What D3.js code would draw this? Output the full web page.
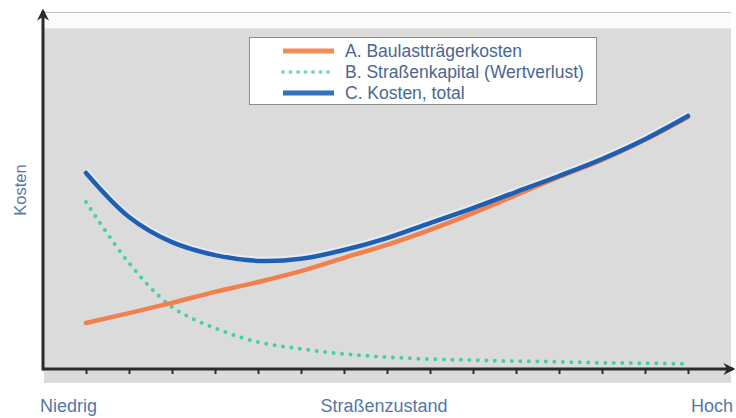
<!DOCTYPE html>
<html>
<head>
<meta charset="utf-8">
<script src="https://cdn.jsdelivr.net/npm/d3@7"></script>
<style>
  html, body { margin: 0; padding: 0; background: #ffffff; }
  svg { display: block; font-family: "Liberation Sans", Arial, sans-serif; }
</style>
</head>
<body>
<svg id="chart" width="736" height="418"></svg>
<script>
// Positions along the road-condition axis (tick index 1..15)
const steps = [1, 2, 3, 4, 5, 6, 7, 8, 9, 10, 11, 12, 13, 14, 15];

// A. Baulastträgerkosten (relative cost units)
const baulastValues = [13.5, 16.4, 19.4, 22.6, 25.5, 28.7, 32.6, 36.4, 40.8, 45.7, 51.0, 56.3, 61.3, 67.2, 73.9];
// B. Straßenkapital (Wertverlust)
const kapitalValues = [49.0, 31.1, 18.2, 12.0, 7.9, 5.9, 4.4, 3.5, 2.9, 2.6, 2.3, 2.1, 1.8, 1.7, 1.5];
// C. Kosten, total
const totalValues = [57.5, 44.6, 37.2, 33.4, 31.7, 32.3, 34.9, 38.4, 42.8, 47.2, 51.9, 56.6, 61.6, 67.4, 74.2];

const seriesNames = ["A. Baulastträgerkosten", "B. Straßenkapital (Wertverlust)", "C. Kosten, total"];
const axisLabels = { left: "Niedrig", middle: "Straßenzustand", right: "Hoch", y: "Kosten" };
const tickSteps = d3.range(1, 16);

const svg = d3.select("#chart");

const x = d3.scaleLinear().domain([0, 16]).range([43, 731]);
const y = d3.scaleLinear().domain([0, 100]).range([369, 28]);

const axisColor = "#2b2b2b";
const textColor = "#5676a8";

// plot background with white top band
svg.append("rect").attr("x", 44).attr("y", 12).attr("width", 687).attr("height", 371)
  .attr("fill", "#dbdbdb");
svg.append("rect").attr("x", 44).attr("y", 12).attr("width", 687).attr("height", 16)
  .attr("fill", "#fbfbfb");
svg.append("line").attr("x1", 44).attr("x2", 731).attr("y1", 12.5).attr("y2", 12.5)
  .attr("stroke", "#bdbdbd").attr("stroke-width", 1);
svg.append("line").attr("x1", 44).attr("x2", 731).attr("y1", 28.5).attr("y2", 28.5)
  .attr("stroke", "#e6e6e6").attr("stroke-width", 1);

// arrowheads
const defs = svg.append("defs");
defs.append("marker").attr("id", "arrow").attr("viewBox", "0 0 10 10")
  .attr("refX", 8).attr("refY", 5).attr("markerWidth", 4).attr("markerHeight", 4)
  .attr("orient", "auto")
  .append("path").attr("d", "M0,0 L10,5 L0,10 L3,5 Z").attr("fill", axisColor);

// x axis with ticks
const xAxis = d3.axisBottom(x).tickValues(tickSteps).tickSize(5).tickFormat("");
const gx = svg.append("g").attr("transform", `translate(0,${y(0)})`).call(xAxis);
gx.select(".domain").remove();
gx.selectAll(".tick line").attr("stroke", axisColor).attr("stroke-width", 2);

svg.append("line").attr("x1", 43).attr("x2", 733).attr("y1", y(0)).attr("y2", y(0))
  .attr("stroke", axisColor).attr("stroke-width", 3).attr("marker-end", "url(#arrow)");
svg.append("line").attr("x1", 43).attr("x2", 43).attr("y1", y(0) + 1.5).attr("y2", 11)
  .attr("stroke", axisColor).attr("stroke-width", 3).attr("marker-end", "url(#arrow)");

// curves
const line = d3.line().x((d, i) => x(steps[i])).y(d => y(d)).curve(d3.curveCatmullRom.alpha(0.5));

svg.append("path").datum(totalValues).attr("d", line)
  .attr("fill", "none").attr("stroke", "#eef3fa").attr("stroke-width", 7).attr("opacity", 0.6)
  .attr("transform", "translate(0,-1)");

svg.append("path").datum(kapitalValues).attr("d", line)
  .attr("fill", "none").attr("stroke", "#45d09c").attr("stroke-width", 4)
  .attr("stroke-linecap", "round").attr("stroke-dasharray", "0 8.5");

svg.append("path").datum(baulastValues).attr("d", line)
  .attr("fill", "none").attr("stroke", "#f0804c").attr("stroke-width", 4.5)
  .attr("stroke-linecap", "round");

svg.append("path").datum(totalValues).attr("d", line)
  .attr("fill", "none").attr("stroke", "#1f5fb3").attr("stroke-width", 4.5)
  .attr("stroke-linecap", "round");

// legend
const legend = svg.append("g");
legend.append("rect").attr("x", 249.5).attr("y", 37.5).attr("width", 347).attr("height", 67)
  .attr("fill", "#ffffff").attr("stroke", "#8c8c8c").attr("stroke-width", 1);
const legendStyles = [
  { color: "#f58b5a", dash: null, width: 5 },
  { color: "#7dd8b8", dash: "0 7.5", width: 4 },
  { color: "#2e72c2", dash: null, width: 5 }
];
const rowY = [51, 72, 93];
seriesNames.forEach((name, i) => {
  const s = legendStyles[i];
  const l = legend.append("line").attr("x1", 283).attr("x2", 334).attr("y1", rowY[i]).attr("y2", rowY[i])
    .attr("stroke", s.color).attr("stroke-width", s.width);
  if (s.dash) l.attr("stroke-dasharray", s.dash).attr("stroke-linecap", "round");
  legend.append("text").attr("x", 345).attr("y", rowY[i] + 6)
    .attr("font-size", 17.5).attr("fill", "#4a6694").text(name);
});

// axis captions
svg.append("text").attr("x", 40).attr("y", 412).attr("font-size", 18).attr("fill", textColor)
  .text(axisLabels.left);
svg.append("text").attr("x", 384).attr("y", 412).attr("font-size", 18).attr("fill", textColor)
  .attr("text-anchor", "middle").text(axisLabels.middle);
svg.append("text").attr("x", 733).attr("y", 412).attr("font-size", 18).attr("fill", textColor)
  .attr("text-anchor", "end").text(axisLabels.right);
svg.append("text").attr("transform", "translate(26,190) rotate(-90)").attr("font-size", 16.5)
  .attr("fill", textColor).attr("text-anchor", "middle").text(axisLabels.y);
</script>
</body>
</html>
